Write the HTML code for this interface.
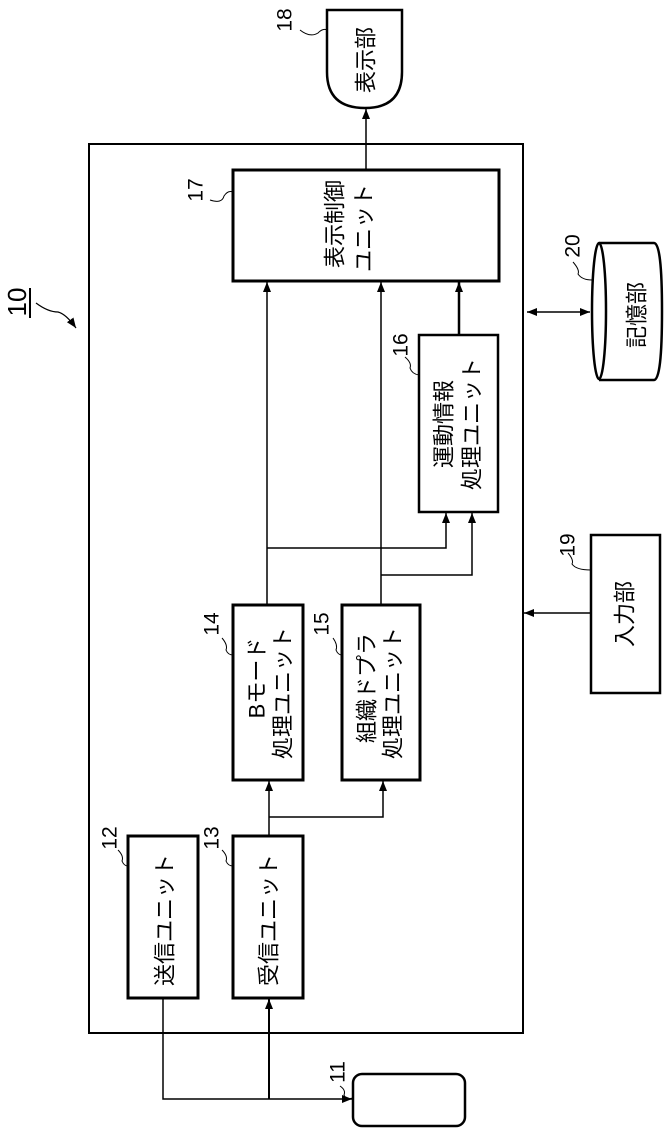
<!DOCTYPE html>
<html><head><meta charset="utf-8"><style>
html,body{margin:0;padding:0;background:#fff;}
svg{display:block;}
text{font-family:"Liberation Sans","Noto Sans CJK JP",sans-serif;fill:#000;}
</style></head><body>
<svg width="669" height="1134" viewBox="0 0 669 1134" xmlns="http://www.w3.org/2000/svg">
<defs>
<marker id="a" markerWidth="10" markerHeight="8" refX="10" refY="4" orient="auto" markerUnits="userSpaceOnUse">
<path d="M0,0 L10,4 L0,8 Z" fill="#000"/></marker>
<marker id="b" markerWidth="10" markerHeight="8" refX="0" refY="4" orient="auto" markerUnits="userSpaceOnUse">
<path d="M10,0 L0,4 L10,8 Z" fill="#000"/></marker>
</defs>
<g fill="none" stroke="#000">
<rect x="89" y="144" width="434" height="889" stroke-width="2"/>
<rect x="233" y="170" width="266" height="111" stroke-width="3"/>
<rect x="419" y="335" width="79" height="177" stroke-width="2.5"/>
<rect x="233" y="605" width="70" height="175" stroke-width="3"/>
<rect x="342" y="605" width="78" height="175" stroke-width="3"/>
<rect x="128" y="836" width="70" height="162" stroke-width="3"/>
<rect x="233" y="836" width="70" height="162" stroke-width="3"/>
<rect x="591" y="535" width="69" height="158" stroke-width="2.5"/>
<rect x="353" y="1074" width="112" height="52" rx="9" stroke-width="2.5"/>
<path d="M327,10 H402 V72 Q402,108 365,108 Q327,108 327,72 Z" stroke-width="2.5"/>
<path d="M599,243 H654 Q662,243 662,311 Q662,380 654,380 H599" stroke-width="2.5"/>
<ellipse cx="599" cy="311" rx="7" ry="68" stroke-width="2.5"/>
<line x1="366" y1="170" x2="366" y2="109" stroke-width="1.5" marker-end="url(#a)"/>
<line x1="267" y1="605" x2="267" y2="282" stroke-width="1.5" marker-end="url(#a)"/>
<line x1="381" y1="605" x2="381" y2="282" stroke-width="1.5" marker-end="url(#a)"/>
<line x1="459" y1="335" x2="459" y2="282" stroke-width="2.5" marker-end="url(#a)"/>
<polyline points="267,548 446,548 446,513" stroke-width="1.5" marker-end="url(#a)"/>
<polyline points="381,575 472,575 472,513" stroke-width="1.5" marker-end="url(#a)"/>
<line x1="527" y1="312" x2="590" y2="312" stroke-width="1.5" marker-start="url(#b)" marker-end="url(#a)"/>
<line x1="591" y1="613" x2="524" y2="613" stroke-width="1.5" marker-end="url(#a)"/>
<line x1="269" y1="836" x2="269" y2="781" stroke-width="1.5" marker-end="url(#a)"/>
<polyline points="269,817 383,817 383,781" stroke-width="1.5" marker-end="url(#a)"/>
<polyline points="163,998 163,1099 352,1099" stroke-width="1.5" marker-end="url(#a)"/>
<line x1="269" y1="1099" x2="269" y2="999" stroke-width="2" marker-end="url(#a)"/>
<path d="M300,30 Q310,38 318,33 Q323,28 327,30" stroke-width="1"/>
<path d="M210,200 Q222,204 224,196 Q228,190 233,192" stroke-width="1"/>
<path d="M405,357 Q412,363 410,368 Q412,374 419,375" stroke-width="1"/>
<path d="M222,638 Q228,645 226,650 Q228,655 233,655" stroke-width="1"/>
<path d="M333,638 Q338,645 336,650 Q338,655 342,655" stroke-width="1"/>
<path d="M118,850 Q124,856 122,861 Q124,866 128,866" stroke-width="1"/>
<path d="M222,850 Q228,856 226,861 Q228,866 233,866" stroke-width="1"/>
<path d="M340,1086 Q346,1090 344,1095 Q346,1100 353,1098" stroke-width="1"/>
<path d="M573,262 Q580,270 578,274 Q582,280 592,280" stroke-width="1"/>
<path d="M568,553 Q574,560 572,564 Q576,570 591,570" stroke-width="1"/>
<path d="M36,303 Q48,312 58,312 Q66,314 76,328" stroke-width="1.2" marker-end="url(#a)"/>
<line x1="30" y1="288" x2="30" y2="318" stroke-width="2"/>
</g>
<g font-size="22">
<text transform="translate(335,224) rotate(-90)" text-anchor="middle" dominant-baseline="central">表示制御</text>
<text transform="translate(364,228) rotate(-90)" text-anchor="middle" dominant-baseline="central">ユニット</text>
<text transform="translate(444,424) rotate(-90)" text-anchor="middle" dominant-baseline="central">運動情報</text>
<text transform="translate(472,424) rotate(-90)" text-anchor="middle" dominant-baseline="central">処理ユニット</text>
<text transform="translate(257,678) rotate(-90)" text-anchor="middle" dominant-baseline="central">Bモード</text>
<text transform="translate(283,693) rotate(-90)" text-anchor="middle" dominant-baseline="central">処理ユニット</text>
<text transform="translate(367,688) rotate(-90)" text-anchor="middle" dominant-baseline="central">組織ドプラ</text>
<text transform="translate(393,693) rotate(-90)" text-anchor="middle" dominant-baseline="central">処理ユニット</text>
<text transform="translate(165,920) rotate(-90)" text-anchor="middle" dominant-baseline="central">送信ユニット</text>
<text transform="translate(269,920) rotate(-90)" text-anchor="middle" dominant-baseline="central">受信ユニット</text>
<text transform="translate(366,60) rotate(-90)" text-anchor="middle" dominant-baseline="central">表示部</text>
<text transform="translate(637,315) rotate(-90)" text-anchor="middle" dominant-baseline="central">記憶部</text>
<text transform="translate(625,614) rotate(-90)" text-anchor="middle" dominant-baseline="central">入力部</text>
</g>
<g font-size="21">
<text transform="translate(285,20) rotate(-90)" text-anchor="middle" dominant-baseline="central">18</text>
<text transform="translate(196,190) rotate(-90)" text-anchor="middle" dominant-baseline="central">17</text>
<text transform="translate(401,345) rotate(-90)" text-anchor="middle" dominant-baseline="central">16</text>
<text transform="translate(212,624) rotate(-90)" text-anchor="middle" dominant-baseline="central">14</text>
<text transform="translate(322,624) rotate(-90)" text-anchor="middle" dominant-baseline="central">15</text>
<text transform="translate(110,838) rotate(-90)" text-anchor="middle" dominant-baseline="central">12</text>
<text transform="translate(212,838) rotate(-90)" text-anchor="middle" dominant-baseline="central">13</text>
<text transform="translate(338,1072) rotate(-90)" text-anchor="middle" dominant-baseline="central">11</text>
<text transform="translate(568,545) rotate(-90)" text-anchor="middle" dominant-baseline="central">19</text>
<text transform="translate(573,246) rotate(-90)" text-anchor="middle" dominant-baseline="central">20</text>
<text transform="translate(17,302) rotate(-90)" text-anchor="middle" dominant-baseline="central" font-size="26">10</text>
</g>
</svg>
</body></html>
